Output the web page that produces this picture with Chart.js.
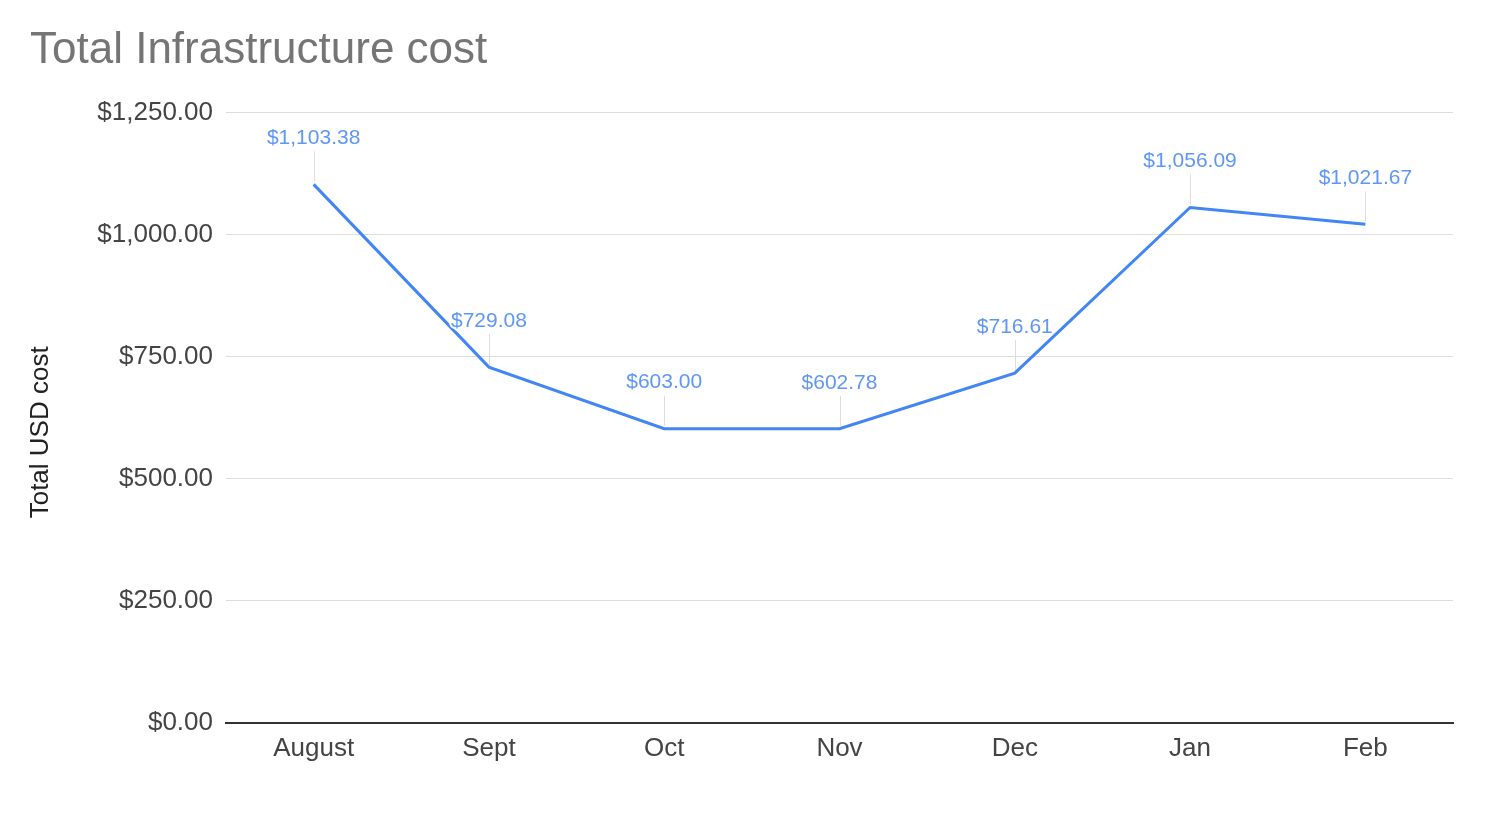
<!DOCTYPE html>
<html>
<head>
<meta charset="utf-8">
<title>Total Infrastructure cost</title>
<script src="https://cdn.jsdelivr.net/npm/chart.js@4"></script>
<style>
  html, body { margin: 0; padding: 0; background: #fff; }
  #wrap { width: 1500px; height: 834px; }
</style>
</head>
<body>
<div id="wrap"><canvas id="costChart" width="1500" height="834"></canvas></div>
<script>
// values
const months = ["August", "Sept", "Oct", "Nov", "Dec", "Jan", "Feb"];
const totalCost = [1103.38, 729.08, 603.00, 602.78, 716.61, 1056.09, 1021.67];
const yMin = 0;
const yMax = 1250;
const yStep = 250;

const FONT = "'Liberation Sans', Arial, sans-serif";
const money = v => "$" + v.toLocaleString("en-US", { minimumFractionDigits: 2, maximumFractionDigits: 2 });

// leader lines under the line, labels on top of it
const pointLabels = {
    id: "pointLabels",
    beforeDatasetsDraw(chart) {
        const ctx = chart.ctx;
        const meta = chart.getDatasetMeta(0);
        ctx.save();
        ctx.strokeStyle = "#dcdcdc";
        ctx.lineWidth = 1;
        meta.data.forEach(pt => {
            ctx.beginPath();
            ctx.moveTo(Math.round(pt.x) + 0.5, pt.y - 3);
            ctx.lineTo(Math.round(pt.x) + 0.5, pt.y - 33);
            ctx.stroke();
        });
        ctx.restore();
    },
    afterDatasetsDraw(chart) {
        const ctx = chart.ctx;
        const meta = chart.getDatasetMeta(0);
        const values = chart.data.datasets[0].data;
        ctx.save();
        ctx.font = "21px " + FONT;
        ctx.textAlign = "center";
        ctx.textBaseline = "middle";
        ctx.lineJoin = "round";
        meta.data.forEach((pt, i) => {
            const txt = money(values[i]);
            ctx.strokeStyle = "#fff";
            ctx.lineWidth = 4;
            ctx.strokeText(txt, pt.x, pt.y - 46);
            ctx.fillStyle = "#5f97f6";
            ctx.fillText(txt, pt.x, pt.y - 46);
        });
        ctx.restore();
    }
};

const chart = new Chart(document.getElementById("costChart"), {
    type: "line",
    data: {
        labels: months,
        datasets: [{
            label: "Total USD cost",
            data: totalCost,
            borderColor: "#4285f4",
            borderWidth: 3,
            pointRadius: 0,
            tension: 0,
            fill: false
        }]
    },
    options: {
        responsive: false,
        animation: false,
        layout: { padding: { left: 30, right: 47, top: 0, bottom: 0 } },
        plugins: {
            legend: { display: false },
            tooltip: { enabled: false },
            title: {
                display: true,
                text: "Total Infrastructure cost",
                align: "start",
                color: "#757575",
                font: { family: FONT, size: 44, weight: "normal" },
                padding: { top: 24, bottom: 36 }
            }
        },
        scales: {
            x: {
                offset: true,
                grid: { display: false, drawTicks: false },
                border: { display: true, color: "#333", width: 2 },
                ticks: {
                    color: "#444",
                    font: { family: FONT, size: 26 },
                    padding: 10,
                    maxRotation: 0
                },
                afterFit(scale) { scale.height = 111; }
            },
            y: {
                min: yMin,
                max: yMax,
                grid: { color: "#dddddd", lineWidth: 1, drawTicks: false },
                border: { display: false },
                ticks: {
                    stepSize: yStep,
                    color: "#444",
                    font: { family: FONT, size: 26 },
                    padding: 13,
                    callback: v => money(v)
                },
                title: {
                    display: true,
                    text: "Total USD cost    ",
                    color: "#222",
                    font: { family: FONT, size: 26, lineHeight: 0.8 },
                    padding: 0
                },
                afterFit(scale) { scale.width = 196; }
            }
        }
    },
    plugins: [pointLabels]
});
</script>
</body>
</html>
